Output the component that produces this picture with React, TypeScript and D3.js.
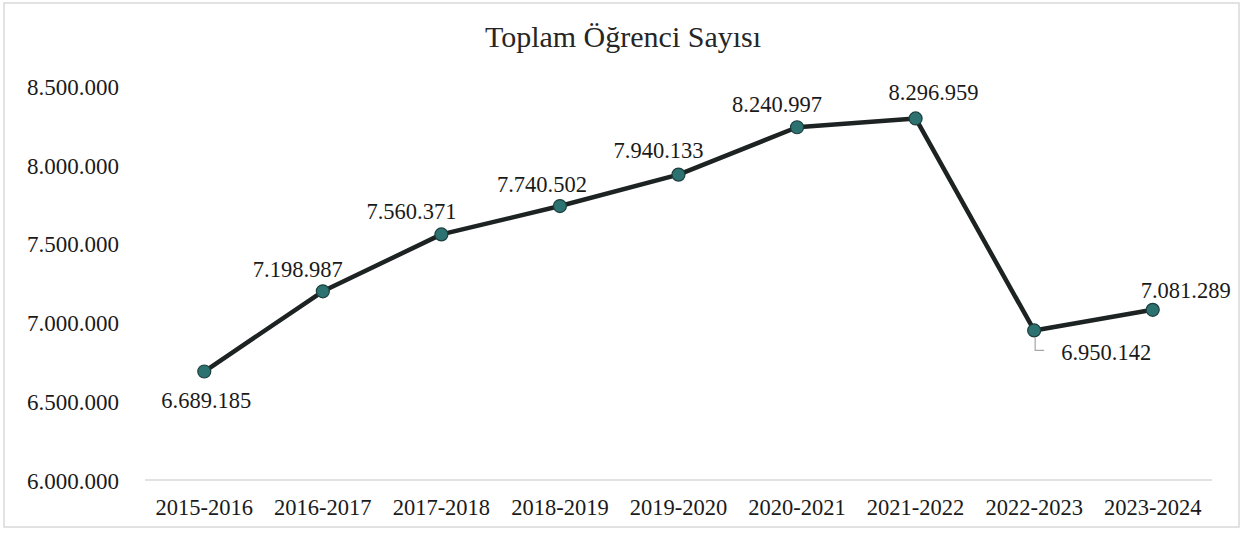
import React from "react";
import * as d3 from "d3";

const categories = ["2015-2016", "2016-2017", "2017-2018", "2018-2019", "2019-2020", "2020-2021", "2021-2022", "2022-2023", "2023-2024"];
const values = [6689185, 7198987, 7560371, 7740502, 7940133, 8240997, 8296959, 6950142, 7081289];
const yTicks = [6000000, 6500000, 7000000, 7500000, 8000000, 8500000];
const title = "Toplam Öğrenci Sayısı";

// label offsets relative to each point (dx = centre shift, dy = baseline shift)
const labelOffsets: [number, number][] = [
  [2, 36], [-25, -14], [-30, -15], [-18, -14], [-20, -17], [-20, -15], [18, -18], [72, 30], [33, -12],
];

const W = 1254;
const H = 537;
const FONT = "'Liberation Serif', 'Times New Roman', serif";

const fmt = (v: number) => d3.format(",")(v).replace(/,/g, ".");

export default function App() {
  const x = d3.scaleBand<string>().domain(categories).range([145, 1212]);
  const y = d3.scaleLinear().domain([6000000, 8500000]).range([480, 86.5]);
  const cx = (c: string) => (x(c) as number) + x.bandwidth() / 2;
  const line = d3
    .line<number>()
    .x((_, i) => cx(categories[i]))
    .y((d) => y(d));

  const i7 = 7;
  const p7x = cx(categories[i7]);
  const p7y = y(values[i7]);

  return (
    <svg
      width={W}
      height={H}
      style={{ position: "absolute", left: 0, top: 0, background: "#fff" }}
      fontFamily={FONT}
    >
      <rect x={4} y={3} width={1235} height={524} fill="#fff" stroke="#d9d9d9" strokeWidth={1.5} />
      <text x={623} y={47} textAnchor="middle" fontSize={30} fill="#262626">
        {title}
      </text>
      {yTicks.map((t) => (
        <text key={t} x={119} y={y(t) + 8.5} textAnchor="end" fontSize={23} fill="#1a1a1a">
          {fmt(t)}
        </text>
      ))}
      <line x1={145} x2={1212} y1={480} y2={480} stroke="#d9d9d9" strokeWidth={1.5} />
      {categories.map((c) => (
        <text key={c} x={cx(c)} y={515} textAnchor="middle" fontSize={22.5} fill="#1a1a1a">
          {c}
        </text>
      ))}
      <path d={line(values) || ""} fill="none" stroke="#1d2322" strokeWidth={4.5} strokeLinejoin="round" />
      {values.map((v, i) => (
        <circle key={i} cx={cx(categories[i])} cy={y(v)} r={6.5} fill="#2c7270" stroke="#1c3f3e" strokeWidth={1.2} />
      ))}
      <path
        d={`M${p7x + 1},${p7y + 7} L${p7x + 1},${p7y + 20} L${p7x + 10},${p7y + 20}`}
        fill="none"
        stroke="#a6a6a6"
        strokeWidth={1.2}
      />
      {values.map((v, i) => (
        <text
          key={i}
          x={cx(categories[i]) + labelOffsets[i][0]}
          y={y(v) + labelOffsets[i][1]}
          textAnchor="middle"
          fontSize={22.5}
          fill="#1a1a1a"
        >
          {fmt(v)}
        </text>
      ))}
    </svg>
  );
}
